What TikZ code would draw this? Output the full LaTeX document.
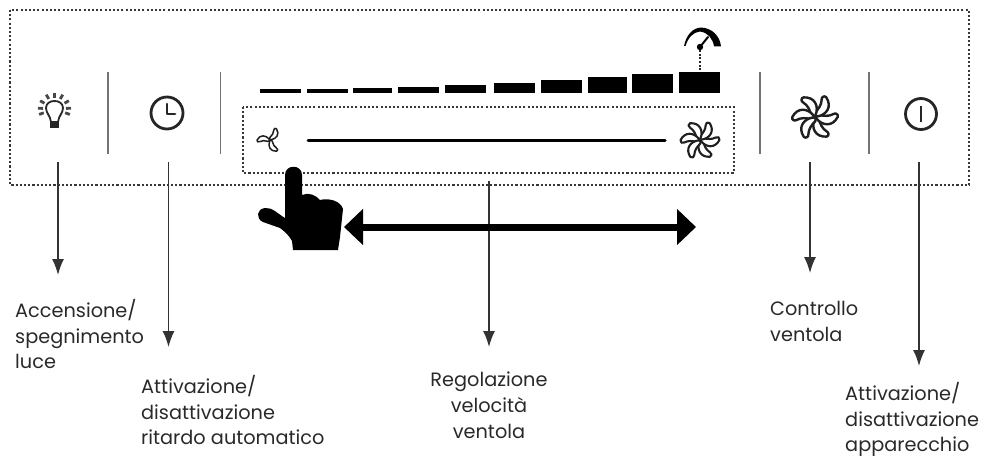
\documentclass[tikz,border=0pt]{standalone}
\usepackage{fontspec}
\setmainfont{Poppins}
\usetikzlibrary{arrows.meta}
\definecolor{ink}{gray}{0.16}
\newcommand{\fanicon}[5]{% x, y, radius, line width, angle list
  \foreach \bladeangle in {#5}{
    \begin{scope}[shift={(#1,#2)},rotate=\bladeangle,x=#3pt,y=#3pt]
    \path[draw=black!88,fill=white,line join=round,line width=#4pt]
      (0.02,-0.08) .. controls (0.1,-0.55) and (0.5,-0.82) .. (0.95,-0.52)
      .. controls (1.05,-0.42) and (0.95,-0.28) .. (0.82,-0.3)
      .. controls (0.6,-0.3) and (0.38,-0.17) .. (0.2,0.02)
      .. controls (0.12,0.08) and (0,0.02) .. cycle;
    \end{scope}}}
\tikzset{
  panel/.style={draw=black!78,line width=2.6pt,dash pattern=on 2.1pt off 2.1pt},
  sep/.style={draw=black!55,line width=1.5pt},
  callout/.style={draw=black!80,line width=1.5pt,-{Latex[length=16pt,width=12pt]}},
  lab/.style={inner sep=0pt,text=ink,font=\fontsize{19.3}{25.7}\selectfont},
  lableft/.style={lab,anchor=north west,align=left},
  labcenter/.style={lab,anchor=north,align=center},
  bar/.style={fill=black,draw=none},
  icon/.style={draw=black!85,line width=2pt,line cap=round,line join=round}
}
\begin{document}
\begin{tikzpicture}[x=1pt,y=-1pt]
\useasboundingbox (0,0) rectangle (984,460);
% panels
\draw[panel] (10,10) rectangle (969,185);
\draw[panel] (243,107) rectangle (734,173);
% separators
\coordinate (s1a) at (108,72);  \coordinate (s1b) at (108,154);
\coordinate (s2a) at (220.5,72);\coordinate (s2b) at (220.5,154);
\coordinate (s3a) at (760,72);  \coordinate (s3b) at (760,154);
\coordinate (s4a) at (869,72);  \coordinate (s4b) at (869,154);
\draw[sep] (s1a)--(s1b); \draw[sep] (s2a)--(s2b); \draw[sep] (s3a)--(s3b); \draw[sep] (s4a)--(s4b);
% level bars
\foreach \xa/\xb/\yt in {260/300.7/89, 306.7/347.7/88.7, 353.3/392.3/88, 398.3/439/86.7, 445.3/485.7/85, 493.7/535/82.7, 540.7/581.7/80, 587.7/626.7/77.3, 632.3/672.7/74.3, 679.3/720.3/72}
  \fill[bar] (\xa,\yt) rectangle (\xb,92.7);
% gauge
\draw[draw=black!85,line width=2.4pt,dash pattern=on 2pt off 1.5pt] (700,70)--(700,48);
\fill (700,47) circle (3.2);
\draw[line width=2pt,line cap=round] (700,47)--(708,37);
\fill[black] (684,46) .. controls (686,36) and (692,28) .. (701,27.5)
  .. controls (712,28) and (720,36) .. (721,46.5) -- (714,46.5)
  .. controls (713,39) and (708,32.5) .. (700,31.5)
  .. controls (693,32) and (688,38) .. (685.5,46) -- cycle;
% slider
\draw[line width=3pt,line cap=round] (308,140)--(665,140);
% bulb
\begin{scope}[shift={(54.5,109)}]
 \draw[icon,line width=1.8pt] (-3.5,13) .. controls (-4,7) and (-8.5,4) .. (-8.5,-1)
   .. controls (-8.5,-6) and (-4,-8) .. (0,-8)
   .. controls (4,-8) and (8.5,-6) .. (8.5,-1)
   .. controls (8.5,4) and (4,7) .. (3.5,13) -- cycle;
 \fill[black!85] (-4.2,13) rectangle (4.2,19);
 \foreach \dx/\dy in {0/-1,-.5/-.87,.5/-.87,-.87/-.5,.87/-.5,-1/-.05,1/-.05,-.93/.33,.93/.33}
  \draw[icon,draw=black!72,line width=2.8pt,line cap=butt] (\dx*11.5,\dy*11.5)--(\dx*16.5,\dy*16.5);
\end{scope}
% clock
\draw[icon,line width=2.8pt] (167,113) circle (16);
\draw[icon,line width=2.8pt] (167,104)--(167,114)--(175,114);
% power
\draw[icon,line width=2.8pt] (921,114) circle (15.5);
\draw[icon,line width=2.8pt,line cap=butt] (921,106)--(921,122);
% fans
\fanicon{815}{117}{21}{2.4}{-31,29,89,149,209,269}
\fanicon{700}{140}{18}{2.1}{-31,29,89,149,209,269}
\fanicon{270}{140}{12}{1.5}{-31,89,209}
% callouts
\coordinate (a1) at (58,162);    \coordinate (b1) at (58,275);
\coordinate (a2) at (168.5,162); \coordinate (b2) at (168.5,347);
\coordinate (a3) at (489,181);   \coordinate (b3) at (489,347);
\coordinate (a4) at (810,162);   \coordinate (b4) at (810,273);
\coordinate (a5) at (919,162);   \coordinate (b5) at (919,366);
\draw[callout] (a1)--(b1); \draw[callout] (a2)--(b2); \draw[callout] (a3)--(b3);
\draw[callout] (a4)--(b4); \draw[callout] (a5)--(b5);
% double arrow
\coordinate (dl) at (344,227); \coordinate (dr) at (696,227);
\draw[line width=7pt,{Triangle[length=19pt,width=35pt]}-{Triangle[length=19pt,width=35pt]}] (dl)--(dr);
% hand
\fill[black] (285,175) .. controls (285,164) and (302,164) .. (302,175)
  -- (302,195) .. controls (308,192) and (316,195) .. (320,200)
  .. controls (328,198) and (340,200) .. (343,209)
  -- (340,237) -- (338,250) -- (293,250) -- (292,241)
  .. controls (288,234) and (285,232) .. (280,228)
  -- (263,222) .. controls (256,219) and (256,209) .. (265,208)
  .. controls (272,207) and (278,214) .. (285,218) -- cycle;
% labels
\node[lableft] (l1) at (15,299) {Accensione/\\spegnimento\\luce};
\node[lableft] (l2) at (141,375) {Attivazione/\\disattivazione\\ritardo automatico};
\node[labcenter] (l3) at (489,372) {Regolazione\\velocità\\ventola};
\node[lableft] (l4) at (770,301) {Controllo\\ventola};
\node[lableft] (l5) at (845,382) {Attivazione/\\disattivazione\\apparecchio};
\end{tikzpicture}
\end{document}
